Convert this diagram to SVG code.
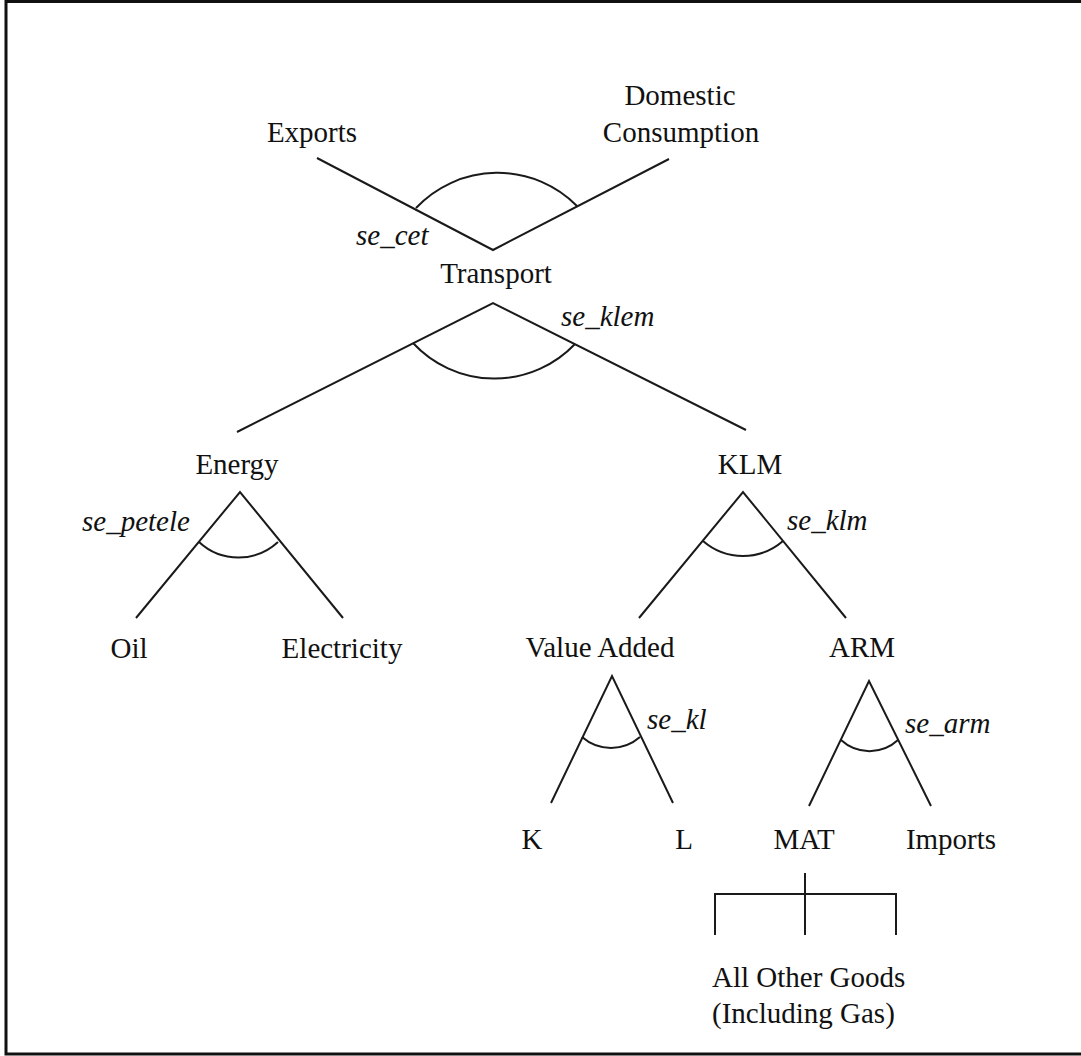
<svg xmlns="http://www.w3.org/2000/svg" width="1081" height="1056" viewBox="0 0 1081 1056">
  <style>
    .node { font-family: "Liberation Serif", "Times New Roman", serif; font-size: 29px; fill: #111; text-anchor: middle; }
    .left { text-anchor: start; }
    .elas { font-family: "Liberation Serif", "Times New Roman", serif; font-size: 29px; font-style: italic; fill: #111; }
    .ln { fill: none; stroke: #1a1a1a; stroke-width: 2; stroke-linecap: butt; stroke-linejoin: miter; }
  </style>
  <rect width="1081" height="1056" fill="#ffffff"/>
  <!-- frame (open on the right edge) -->
  <path d="M1081,1.5 H6 V1054 H1081" fill="none" stroke="#111" stroke-width="3"/>

  <!-- connectors: nest branches, elasticity arcs and the MAT bracket -->
  <g id="connectors" class="ln">
    <!-- CET: Transport splits into Exports / Domestic Consumption -->
    <path d="M317,158 L493,250 L669,159"/>
    <path d="M416,208 A112 112 0 0 1 577,206"/>
    <!-- KLEM nest -->
    <path d="M237,432 L493,303 L746,430"/>
    <path d="M413,343 A111 111 0 0 0 575,344"/>
    <!-- Energy nest -->
    <path d="M136,618 L240,492 L343,618"/>
    <path d="M199,542 A58 58 0 0 0 278,542"/>
    <!-- KLM nest -->
    <path d="M639,618 L743,492 L846,618"/>
    <path d="M703,541 A61 61 0 0 0 783,541"/>
    <!-- Value Added nest -->
    <path d="M551,803 L612,676 L673,803"/>
    <path d="M582,737 A44 44 0 0 0 640,737"/>
    <!-- Armington nest -->
    <path d="M809,806 L869,681 L931,806"/>
    <path d="M841,740 A42 42 0 0 0 898,740"/>
    <!-- MAT bracket (Leontief) -->
    <path d="M805,873 V935"/>
    <path d="M715,935 V894 H896 V935"/>
  </g>

  <g id="node-domestic"><text class="node" x="680" y="105">Domestic</text><text class="node" x="681" y="142">Consumption</text></g>
  <g id="node-exports"><text class="node" x="312" y="142">Exports</text></g>
  <g id="node-transport"><text class="node" x="496" y="283">Transport</text></g>
  <g id="node-energy"><text class="node" x="237" y="474">Energy</text></g>
  <g id="node-klm"><text class="node" x="750" y="474">KLM</text></g>
  <g id="node-oil"><text class="node" x="129" y="658">Oil</text></g>
  <g id="node-electricity"><text class="node" x="342" y="658">Electricity</text></g>
  <g id="node-value-added"><text class="node" x="600" y="657">Value Added</text></g>
  <g id="node-arm"><text class="node" x="862" y="657">ARM</text></g>
  <g id="node-k"><text class="node" x="532" y="849">K</text></g>
  <g id="node-l"><text class="node" x="684" y="849">L</text></g>
  <g id="node-mat"><text class="node" x="804" y="849">MAT</text></g>
  <g id="node-imports"><text class="node" x="951" y="849">Imports</text></g>
  <g id="node-other-goods"><text class="node left" x="712" y="987">All Other Goods</text><text class="node left" x="712" y="1023">(Including Gas)</text></g>

  <g id="elasticities">
    <text class="elas" x="356" y="245">se_cet</text>
    <text class="elas" x="561" y="326">se_klem</text>
    <text class="elas" x="82" y="531">se_petele</text>
    <text class="elas" x="787" y="530">se_klm</text>
    <text class="elas" x="647" y="729">se_kl</text>
    <text class="elas" x="905" y="733">se_arm</text>
  </g>
</svg>
